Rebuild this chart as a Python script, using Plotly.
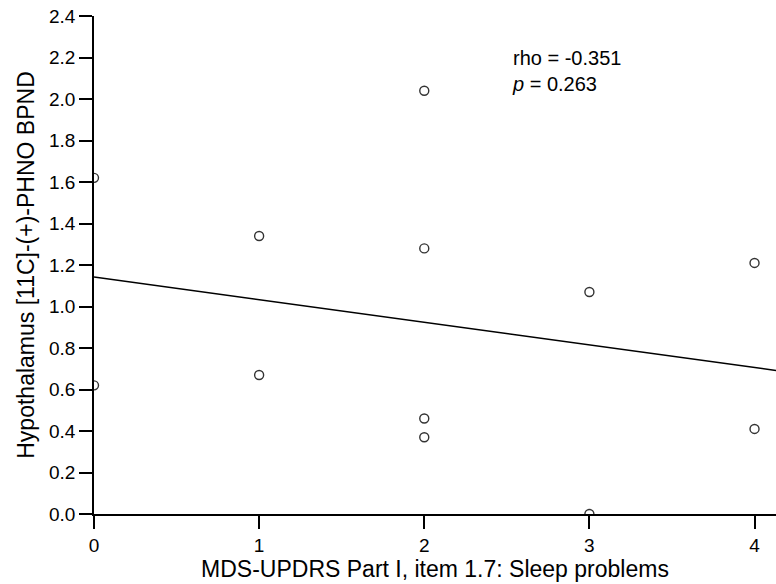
import numpy as np
import plotly.graph_objects as go

sleep_score = [0, 0, 1, 1, 2, 2, 2, 2, 3, 3, 4, 4]
bpnd = [1.62, 0.62, 1.34, 0.67, 2.04, 1.28, 0.46, 0.37, 1.07, 0.00, 1.21, 0.41]
x_ticks = [0, 1, 2, 3, 4]
y_ticks = [0.0, 0.2, 0.4, 0.6, 0.8, 1.0, 1.2, 1.4, 1.6, 1.8, 2.0, 2.2, 2.4]
x_range = [0, 4.13]
y_range = [0, 2.4]

slope, intercept = np.polyfit(sleep_score, bpnd, 1)
fit_x = np.array(x_range)
fit_y = intercept + slope * fit_x

font = "Liberation Sans, Arial, sans-serif"

fig = go.Figure()
fig.add_trace(go.Scatter(x=fit_x, y=fit_y, mode="lines",
                         line=dict(color="black", width=1.5),
                         showlegend=False, hoverinfo="skip"))
fig.add_trace(go.Scatter(x=sleep_score, y=bpnd, mode="markers",
                         marker=dict(symbol="circle-open", size=9,
                                     color="#333333", line=dict(width=1.4)),
                         cliponaxis=True, showlegend=False))

fig.add_annotation(x=2.52, y=2.135, xref="x", yref="y", xanchor="left",
                   yanchor="middle", showarrow=False, align="left",
                   text="rho = -0.351<br><i>p</i> = 0.263",
                   font=dict(family=font, size=20, color="black"))

fig.update_layout(
    width=776, height=584,
    margin=dict(l=94, r=0, t=16, b=70),
    paper_bgcolor="white", plot_bgcolor="white",
    font=dict(family=font, size=19, color="black"),
)
fig.update_xaxes(range=x_range, tickvals=x_ticks, ticks="outside", ticklen=13,
                 tickwidth=1.5, tickcolor="black", showline=True, linewidth=1.5,
                 linecolor="black", showgrid=False, zeroline=False, automargin=False,
                 tickfont=dict(size=19),
                 title=dict(text="MDS-UPDRS Part I, item 1.7: Sleep problems",
                            font=dict(size=23), standoff=2))
fig.update_yaxes(range=y_range, tickvals=y_ticks, tickformat=".1f", ticks="outside",
                 ticklen=13, tickwidth=1.5, tickcolor="black", showline=True,
                 linewidth=1.5, linecolor="black", showgrid=False, zeroline=False,
                 automargin=False, tickfont=dict(size=19),
                 title=dict(text="Hypothalamus [11C]-(+)-PHNO BPND",
                            font=dict(size=23), standoff=8))

fig.write_html("out.html", config={"displayModeBar": False},
               post_script="document.body.style.margin='0px';document.body.style.overflow='hidden';")
